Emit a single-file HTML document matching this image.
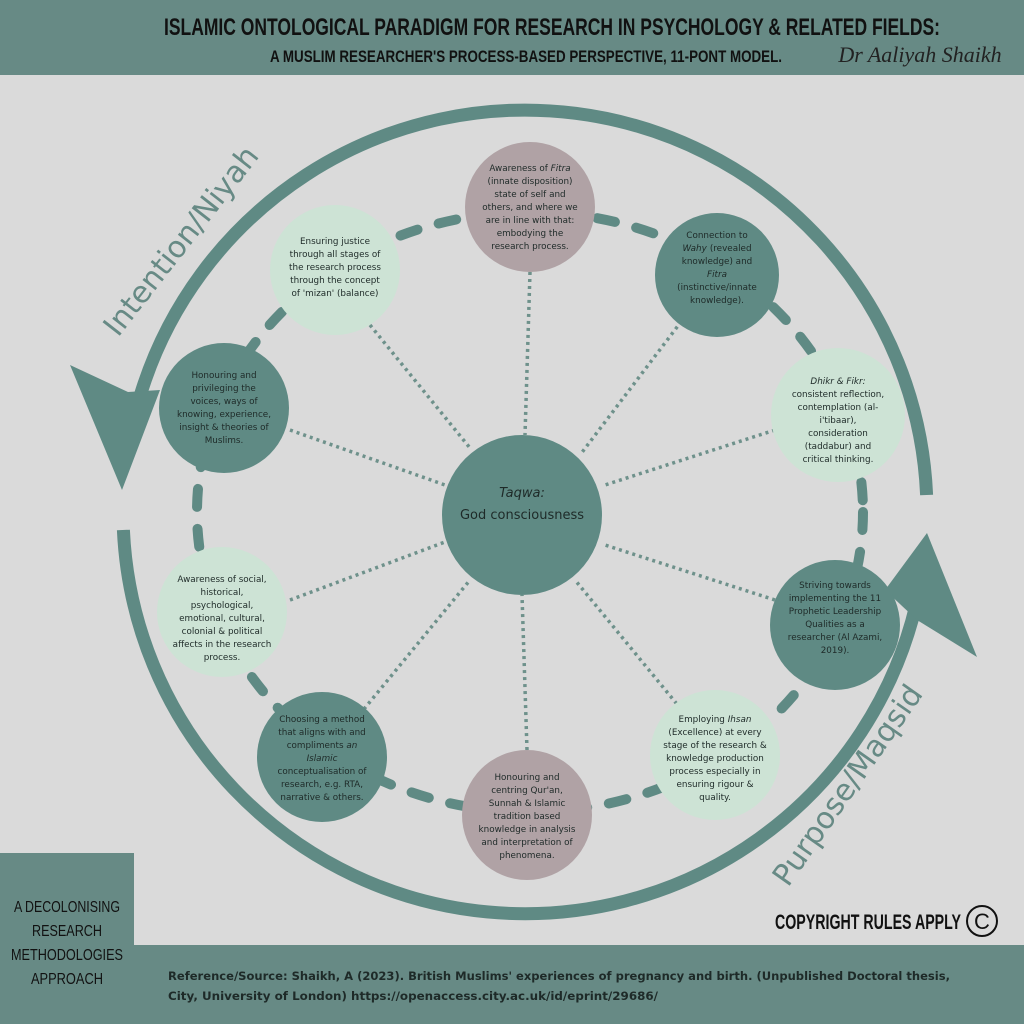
<!DOCTYPE html>
<html><head><meta charset="utf-8"><style>
html,body{margin:0;padding:0;background:#dadada;}
svg{display:block;}
.n{font-family:"DejaVu Sans","Liberation Sans",sans-serif;font-size:8.8px;fill:#1e2a28;text-anchor:middle;}
.h{font-family:"Liberation Sans Narrow","Liberation Sans",sans-serif;font-weight:bold;fill:#111;}
</style></head><body>
<svg width="1024" height="1024" viewBox="0 0 1024 1024" xmlns="http://www.w3.org/2000/svg">
<rect width="1024" height="1024" fill="#dadada"/>
<rect x="0" y="0" width="1024" height="75" fill="#678a85"/>
<text class="h" x="552" y="35" font-size="24" text-anchor="middle" textLength="776" lengthAdjust="spacingAndGlyphs">ISLAMIC ONTOLOGICAL PARADIGM FOR RESEARCH IN PSYCHOLOGY &amp; RELATED FIELDS:</text>
<text class="h" x="526" y="62" font-size="17" text-anchor="middle" textLength="512" lengthAdjust="spacingAndGlyphs">A MUSLIM RESEARCHER'S PROCESS-BASED PERSPECTIVE, 11-PONT MODEL.</text>
<text x="920" y="62" font-family="Liberation Serif,serif" font-style="italic" font-size="22" fill="#222" text-anchor="middle">Dr Aaliyah Shaikh</text>

<!-- bottom band -->
<rect x="0" y="945" width="1024" height="79" fill="#678a85"/>
<rect x="0" y="853" width="134" height="171" fill="#678a85"/>
<g font-family="Liberation Sans Narrow,Liberation Sans,sans-serif" font-size="16" text-anchor="middle" fill="#111">
<text x="67" y="912" textLength="106" lengthAdjust="spacingAndGlyphs">A DECOLONISING</text>
<text x="67" y="936" textLength="70" lengthAdjust="spacingAndGlyphs">RESEARCH</text>
<text x="67" y="960" textLength="112" lengthAdjust="spacingAndGlyphs">METHODOLOGIES</text>
<text x="67" y="984" textLength="72" lengthAdjust="spacingAndGlyphs">APPROACH</text>
</g>
<g font-family="DejaVu Sans,Liberation Sans,sans-serif" font-size="11.5" font-weight="bold" fill="#1e2a28">
<text x="168" y="980" textLength="782" lengthAdjust="spacingAndGlyphs">Reference/Source: Shaikh, A (2023). British Muslims' experiences of pregnancy and birth. (Unpublished Doctoral thesis,</text>
<text x="168" y="1000" textLength="490" lengthAdjust="spacingAndGlyphs">City, University of London) https://openaccess.city.ac.uk/id/eprint/29686/</text>
</g>
<text class="h" x="775" y="929" font-size="21" textLength="186" lengthAdjust="spacingAndGlyphs">COPYRIGHT RULES APPLY</text>
<circle cx="982" cy="921" r="15" fill="none" stroke="#111" stroke-width="2"/>
<text x="982" y="929" font-family="Liberation Sans,sans-serif" font-size="22" fill="#111" text-anchor="middle">C</text>

<!-- big arcs -->
<g fill="none" stroke="#5f8a84" stroke-width="13">
<path d="M926.6 495 A402 402 0 0 0 140.4 395"/>
<path d="M123.4 530 A402 402 0 0 0 916 605"/>
</g>
<polygon points="122,490 70,365 128,392 160,390" fill="#5f8a84"/>
<polygon points="927,533 977,657 917,620 885,590" fill="#5f8a84"/>
<text transform="translate(118,338) rotate(-52)" font-family="DejaVu Sans,Liberation Sans,sans-serif" font-size="30" fill="#678a85">Intention/Niyah</text>
<text transform="translate(788,888) rotate(-55)" font-family="DejaVu Sans,Liberation Sans,sans-serif" font-size="30" fill="#678a85">Purpose/Maqsid</text>

<!-- dashed ring -->
<ellipse cx="530" cy="512" rx="333" ry="300" fill="none" stroke="#5f8a84" stroke-width="10" stroke-linecap="round" stroke-dasharray="18 22"/>

<!-- spokes -->
<g stroke="#6e918b" stroke-width="3.5" stroke-dasharray="3 4">
<line x1="530" y1="272" x2="525" y2="435"/>
<line x1="690" y1="310" x2="580" y2="455"/>
<line x1="775" y1="430" x2="605" y2="485"/>
<line x1="775" y1="600" x2="605" y2="545"/>
<line x1="690" y1="720" x2="575" y2="580"/>
<line x1="527" y1="750" x2="522" y2="595"/>
<line x1="355" y1="720" x2="470" y2="580"/>
<line x1="290" y1="600" x2="445" y2="542"/>
<line x1="290" y1="430" x2="445" y2="485"/>
<line x1="370" y1="325" x2="470" y2="448"/>
</g>

<!-- nodes -->
<circle cx="522" cy="515" r="80" fill="#5f8a84"/>
<text class="n" x="522" y="497" style="font-size:13px;font-style:italic">Taqwa:</text>
<text class="n" x="522" y="519" style="font-size:13px">God consciousness</text>

<circle cx="530" cy="207" r="65" fill="#b0a2a5"/>
<text class="n" y="171"><tspan x="530">Awareness of <tspan font-style="italic">Fitra</tspan></tspan><tspan x="530" dy="13">(innate disposition)</tspan><tspan x="530" dy="13">state of self and</tspan><tspan x="530" dy="13">others, and where we</tspan><tspan x="530" dy="13">are in line with that:</tspan><tspan x="530" dy="13">embodying the</tspan><tspan x="530" dy="13">research process.</tspan></text>

<circle cx="717" cy="275" r="62" fill="#5f8a84"/>
<text class="n" y="238"><tspan x="717">Connection to</tspan><tspan x="717" dy="13" font-style="italic">Wahy</tspan><tspan dx="3">(revealed</tspan><tspan x="717" dy="13">knowledge) and</tspan><tspan x="717" dy="13" font-style="italic">Fitra</tspan><tspan x="717" dy="13">(instinctive/innate</tspan><tspan x="717" dy="13">knowledge).</tspan></text>

<circle cx="838" cy="415" r="67" fill="#cde3d5"/>
<text class="n" y="384"><tspan x="838" font-style="italic">Dhikr &amp; Fikr:</tspan><tspan x="838" dy="13">consistent reflection,</tspan><tspan x="838" dy="13">contemplation (al-</tspan><tspan x="838" dy="13">i'tibaar),</tspan><tspan x="838" dy="13">consideration</tspan><tspan x="838" dy="13">(taddabur) and</tspan><tspan x="838" dy="13">critical thinking.</tspan></text>

<circle cx="835" cy="625" r="65" fill="#5f8a84"/>
<text class="n" y="588"><tspan x="835">Striving towards</tspan><tspan x="835" dy="13">implementing the 11</tspan><tspan x="835" dy="13">Prophetic Leadership</tspan><tspan x="835" dy="13">Qualities as a</tspan><tspan x="835" dy="13">researcher (Al Azami,</tspan><tspan x="835" dy="13">2019).</tspan></text>

<circle cx="715" cy="755" r="65" fill="#cde3d5"/>
<text class="n" y="722"><tspan x="715">Employing <tspan font-style="italic">Ihsan</tspan></tspan><tspan x="715" dy="13">(Excellence) at every</tspan><tspan x="715" dy="13">stage of the research &amp;</tspan><tspan x="715" dy="13">knowledge production</tspan><tspan x="715" dy="13">process especially in</tspan><tspan x="715" dy="13">ensuring rigour &amp;</tspan><tspan x="715" dy="13">quality.</tspan></text>

<circle cx="527" cy="815" r="65" fill="#b0a2a5"/>
<text class="n" y="780"><tspan x="527">Honouring and</tspan><tspan x="527" dy="13">centring Qur'an,</tspan><tspan x="527" dy="13">Sunnah &amp; Islamic</tspan><tspan x="527" dy="13">tradition based</tspan><tspan x="527" dy="13">knowledge in analysis</tspan><tspan x="527" dy="13">and interpretation of</tspan><tspan x="527" dy="13">phenomena.</tspan></text>

<circle cx="322" cy="757" r="65" fill="#5f8a84"/>
<text class="n" y="722"><tspan x="322">Choosing a method</tspan><tspan x="322" dy="13">that aligns with and</tspan><tspan x="322" dy="13">compliments <tspan font-style="italic">an</tspan></tspan><tspan x="322" dy="13" font-style="italic">Islamic</tspan><tspan x="322" dy="13">conceptualisation of</tspan><tspan x="322" dy="13">research, e.g. RTA,</tspan><tspan x="322" dy="13">narrative &amp; others.</tspan></text>

<circle cx="222" cy="612" r="65" fill="#cde3d5"/>
<text class="n" y="582"><tspan x="222">Awareness of social,</tspan><tspan x="222" dy="13">historical,</tspan><tspan x="222" dy="13">psychological,</tspan><tspan x="222" dy="13">emotional, cultural,</tspan><tspan x="222" dy="13">colonial &amp; political</tspan><tspan x="222" dy="13">affects in the research</tspan><tspan x="222" dy="13">process.</tspan></text>

<circle cx="224" cy="408" r="65" fill="#5f8a84"/>
<text class="n" y="378"><tspan x="224">Honouring and</tspan><tspan x="224" dy="13">privileging the</tspan><tspan x="224" dy="13">voices, ways of</tspan><tspan x="224" dy="13">knowing, experience,</tspan><tspan x="224" dy="13">insight &amp; theories of</tspan><tspan x="224" dy="13">Muslims.</tspan></text>

<circle cx="335" cy="270" r="65" fill="#cde3d5"/>
<text class="n" y="244"><tspan x="335">Ensuring justice</tspan><tspan x="335" dy="13">through all stages of</tspan><tspan x="335" dy="13">the research process</tspan><tspan x="335" dy="13">through the concept</tspan><tspan x="335" dy="13">of 'mizan' (balance)</tspan></text>
</svg>
</body></html>
